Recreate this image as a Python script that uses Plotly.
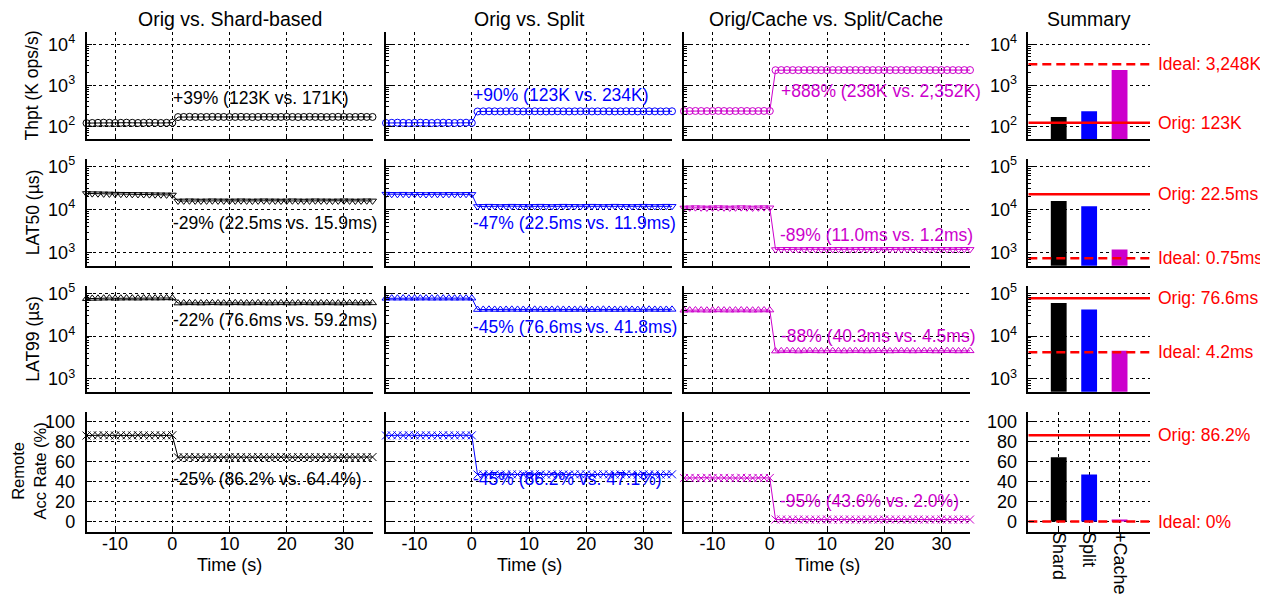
import math
import plotly.graph_objects as go

# ---------------- data ----------------
time_s = [-15, -14, -13, -12, -11, -10, -9, -8, -7, -6, -5, -4, -3, -2, -1, 0,
          1, 2, 3, 4, 5, 6, 7, 8, 9, 10,
          11, 12, 13, 14, 15, 16, 17, 18, 19, 20,
          21, 22, 23, 24, 25, 26, 27, 28, 29, 30,
          31, 32, 33, 34, 35]
time_ticks = [-10, 0, 10, 20, 30]
time_ticktext = ["-10", "0", "10", "20", "30"]

thpt_shard = [121, 122, 123, 124, 123, 122, 123, 124, 123, 122, 123, 124, 123, 122, 123, 124,
              170, 171, 172, 171, 170, 171, 172, 171, 171, 170,
              171, 172, 171, 170, 171, 172, 171, 170, 171, 172,
              171, 170, 171, 172, 171, 171, 170, 171, 172, 171,
              170, 171, 172, 171, 171]
thpt_split = [122, 123, 124, 123, 122, 123, 124, 123, 122, 123, 124, 123, 122, 123, 124, 123,
              232, 234, 235, 234, 233, 234, 236, 234, 233, 234,
              235, 234, 233, 234, 235, 234, 233, 234, 235, 234,
              233, 234, 235, 234, 233, 234, 235, 234, 233, 234,
              235, 234, 233, 234, 235]
thpt_cache = [236, 238, 239, 238, 237, 238, 240, 238, 237, 238, 239, 238, 237, 238, 239, 238,
              2340, 2352, 2360, 2350, 2345, 2352, 2358, 2350, 2348, 2352,
              2355, 2350, 2347, 2352, 2356, 2351, 2348, 2352, 2355, 2350,
              2348, 2352, 2356, 2351, 2349, 2352, 2355, 2350, 2348, 2352,
              2356, 2351, 2349, 2352, 2354]

lat50_shard = [23600, 23400, 23300, 23100, 23000, 22800, 22700, 22600, 22500, 22400, 22300, 22200, 22100, 22000, 21900, 21800,
               15800, 15900, 16000, 15900, 15800, 15900, 16000, 15900, 15900, 15800,
               15900, 16000, 15900, 15800, 15900, 16000, 15900, 15900, 15800, 15900,
               16000, 15900, 15800, 15900, 16000, 15900, 15900, 15800, 15900, 16000,
               15900, 15800, 15900, 16000, 15900]
lat50_split = [22800, 22600, 22500, 22700, 22400, 22600, 22500, 22300, 22600, 22500, 22400, 22600, 22500, 22400, 22600, 22500,
               11800, 11900, 12000, 11900, 11800, 11900, 12000, 11900, 11900, 11800,
               11900, 12000, 11900, 11800, 11900, 12000, 11900, 11900, 11800, 11900,
               12000, 11900, 11800, 11900, 12000, 11900, 11900, 11800, 11900, 12000,
               11900, 11800, 11900, 12000, 11900]
lat50_cache = [10900, 11000, 11100, 11000, 10900, 11000, 11100, 11000, 10900, 11000, 11100, 11000, 10900, 11000, 11100, 11000,
               1190, 1200, 1210, 1200, 1190, 1200, 1210, 1200, 1200, 1190,
               1200, 1210, 1200, 1190, 1200, 1210, 1200, 1200, 1190, 1200,
               1210, 1200, 1190, 1200, 1210, 1200, 1200, 1190, 1200, 1210,
               1200, 1190, 1200, 1210, 1200]

lat99_shard = [74500, 75500, 76000, 76500, 77000, 76000, 76500, 77000, 76800, 76500, 77000, 77200, 76800, 77000, 77500, 77200,
               58800, 59200, 59500, 59200, 58900, 59200, 59600, 59200, 59000, 59200,
               59500, 59200, 58900, 59200, 59600, 59200, 59000, 59200, 59500, 59200,
               58900, 59200, 59600, 59200, 59000, 59200, 59500, 59200, 58900, 59200,
               59600, 59200, 59000, 59200, 59400]
lat99_split = [76000, 76800, 76500, 77000, 76400, 76700, 76600, 76900, 76300, 76700, 76500, 76800, 76400, 76600, 76700, 76500,
               41500, 41800, 42100, 41800, 41600, 41800, 42000, 41800, 41700, 41800,
               42000, 41800, 41600, 41800, 42100, 41800, 41700, 41800, 42000, 41800,
               41600, 41800, 42100, 41800, 41700, 41800, 42000, 41800, 41600, 41800,
               42100, 41800, 41700, 41800, 41900]
lat99_cache = [40000, 40300, 40500, 40300, 40100, 40300, 40600, 40300, 40200, 40300, 40500, 40300, 40100, 40300, 40500, 40300,
               4450, 4500, 4550, 4500, 4460, 4500, 4540, 4500, 4480, 4500,
               4530, 4500, 4470, 4500, 4550, 4500, 4480, 4500, 4530, 4500,
               4470, 4500, 4540, 4500, 4480, 4500, 4530, 4500, 4470, 4500,
               4540, 4500, 4480, 4500, 4510]

remote_shard = [86.0, 86.3, 86.1, 86.4, 86.2, 86.0, 86.3, 86.2, 86.1, 86.4, 86.2, 86.0, 86.3, 86.2, 86.1, 86.3,
                64.2, 64.4, 64.6, 64.4, 64.3, 64.4, 64.5, 64.4, 64.3, 64.4,
                64.6, 64.4, 64.3, 64.4, 64.5, 64.4, 64.3, 64.4, 64.6, 64.4,
                64.3, 64.4, 64.5, 64.4, 64.3, 64.4, 64.6, 64.4, 64.3, 64.4,
                64.5, 64.4, 64.3, 64.4, 64.5]
remote_split = [86.1, 86.3, 86.2, 86.0, 86.4, 86.2, 86.1, 86.3, 86.2, 86.0, 86.4, 86.2, 86.1, 86.3, 86.2, 86.2,
                47.0, 47.1, 47.3, 47.1, 46.9, 47.1, 47.2, 47.1, 47.0, 47.1,
                47.3, 47.1, 46.9, 47.1, 47.2, 47.1, 47.0, 47.1, 47.3, 47.1,
                46.9, 47.1, 47.2, 47.1, 47.0, 47.1, 47.3, 47.1, 46.9, 47.1,
                47.2, 47.1, 47.0, 47.1, 47.2]
remote_cache = [43.5, 43.7, 43.6, 43.4, 43.8, 43.6, 43.5, 43.7, 43.6, 43.4, 43.8, 43.6, 43.5, 43.7, 43.6, 43.6,
                2.0, 2.1, 1.9, 2.0, 2.0, 2.1, 1.9, 2.0, 2.0, 2.1,
                1.9, 2.0, 2.0, 2.1, 1.9, 2.0, 2.0, 2.1, 1.9, 2.0,
                2.0, 2.1, 1.9, 2.0, 2.0, 2.1, 1.9, 2.0, 2.0, 2.1,
                1.9, 2.0, 2.0, 2.1, 2.0]

summary_categories = ["Shard", "Split", "+Cache"]
summary_thpt = [171, 234, 2352]
summary_lat50 = [15900, 11900, 1200]
summary_lat99 = [59200, 41800, 4500]
summary_remote = [64.4, 47.1, 2.0]

orig_values = [123, 22500, 76600, 86.2]
ideal_values = [3248, 750, 4200, 0]
orig_labels = ["Orig: 123K", "Orig: 22.5ms", "Orig: 76.6ms", "Orig: 86.2%"]
ideal_labels = ["Ideal: 3,248K", "Ideal: 0.75ms", "Ideal: 4.2ms", "Ideal: 0%"]

column_titles = ["Orig vs. Shard-based", "Orig vs. Split", "Orig/Cache vs. Split/Cache", "Summary"]
row_titles = ["Thpt (K ops/s)", "LAT50 (µs)", "LAT99 (µs)", "Remote<br>Acc Rate (%)"]

panel_notes = [
    ["+39% (123K vs. 171K)", "+90% (123K vs. 234K)", "+888% (238K vs. 2,352K)"],
    ["-29% (22.5ms vs. 15.9ms)", "-47% (22.5ms vs. 11.9ms)", "-89% (11.0ms vs. 1.2ms)"],
    ["-22% (76.6ms vs. 59.2ms)", "-45% (76.6ms vs. 41.8ms)", "-88% (40.3ms vs. 4.5ms)"],
    ["-25% (86.2% vs. 64.4%)", "-45% (86.2% vs. 47.1%)", "-95% (43.6% vs. 2.0%)"],
]

series = [
    [thpt_shard, thpt_split, thpt_cache],
    [lat50_shard, lat50_split, lat50_cache],
    [lat99_shard, lat99_split, lat99_cache],
    [remote_shard, remote_split, remote_cache],
]
summary_series = [summary_thpt, summary_lat50, summary_lat99, summary_remote]

for row in series:
    for s in row:
        assert len(s) == len(time_s), len(s)

# ---------------- style / layout ----------------
# The page body has an 8px margin, so the figure is 8px smaller and
# all pixel positions below are given in page coordinates (offset by 8).
OFF = 8
W, H = 1268 - OFF, 594 - OFF
FONT = "Liberation Sans, Arial, Helvetica, sans-serif"
colors = ["#000000", "#0000ff", "#cc00cc"]
markers = ["circle-open", "triangle-down-open", "triangle-up-open", "x-thin-open"]
marker_sizes = [7, 7, 7, 8]
RED = "#ff0000"

col_px = [(86.5, 372.5), (386, 672), (684, 970), (1028.3, 1150)]
row_px = [(27, 135), (155, 263), (283, 390), (410, 531)]

log_ranges = [(50, 20000), (500, 150000), (500, 150000)]
log_ticks = [[100, 1000, 10000], [1000, 10000, 100000], [1000, 10000, 100000]]
log_ticktext = [["10<sup>2</sup>", "10<sup>3</sup>", "10<sup>4</sup>"],
                ["10<sup>3</sup>", "10<sup>4</sup>", "10<sup>5</sup>"],
                ["10<sup>3</sup>", "10<sup>4</sup>", "10<sup>5</sup>"]]


def fx(p):
    return (p - OFF) / W


def fy(p):
    return 1 - (p - OFF) / H


fig = go.Figure()
layout = dict(
    width=W, height=H,
    margin=dict(l=0, r=0, t=0, b=0),
    paper_bgcolor="white", plot_bgcolor="white",
    showlegend=False,
    font=dict(family=FONT, size=18, color="black"),
)
annotations = []

grid_common = dict(showgrid=True, gridcolor="black", gridwidth=1, griddash="3px,3px")
TICKFONT = dict(size=18, family=FONT, color="black")

for r in range(4):
    for c in range(4):
        i = r * 4 + c + 1
        xs = "" if i == 1 else str(i)
        xname, yname = "xaxis" + xs, "yaxis" + xs
        xref, yref = "x" + xs, "y" + xs

        # x axis
        xa = dict(domain=[fx(col_px[c][0]), fx(col_px[c][1])], anchor=yref,
                  showline=True, linecolor="black", linewidth=1.5, mirror=False,
                  zeroline=False, tickfont=TICKFONT, ticklabelstandoff=-5)
        if c < 3:
            xa.update(range=[-15, 35], tickvals=time_ticks, ticktext=time_ticktext,
                      ticks="inside", ticklen=5, tickcolor="black",
                      showticklabels=(r == 3), **grid_common)
        else:
            xa.update(range=[-1, 3], tickvals=[0, 1, 2], ticktext=summary_categories,
                      showticklabels=(r == 3), tickangle=90,
                      ticks="inside" if r == 3 else "", ticklen=5, tickcolor="black")
            if r == 3:
                xa.update(**grid_common)
            else:
                xa.update(showgrid=False)
        layout[xname] = xa

        # y axis
        ya = dict(domain=[fy(row_px[r][1]), fy(row_px[r][0])], anchor=xref,
                  showline=True, linecolor="black", linewidth=1.5, mirror=False,
                  zeroline=False, ticks="inside", ticklen=6, tickcolor="black",
                  showticklabels=(c in (0, 3)), tickfont=TICKFONT,
                  ticklabelstandoff=6, **grid_common)
        if r < 3:
            lo, hi = log_ranges[r]
            minor_vals = []
            for d in range(1, 6):
                for m in range(2, 10):
                    v = m * 10 ** d
                    if lo <= v <= hi:
                        minor_vals.append(v)
            ya.update(type="log", range=[math.log10(lo), math.log10(hi)],
                      tickvals=log_ticks[r], ticktext=log_ticktext[r],
                      minor=dict(tickvals=minor_vals, ticks="inside", ticklen=3,
                                 tickcolor="black", showgrid=False))
        else:
            ya.update(range=[-10, 110], tickvals=[0, 20, 40, 60, 80, 100])
        layout[yname] = ya

        # traces
        if c < 3:
            fig.add_trace(go.Scatter(
                x=time_s, y=series[r][c], mode="lines+markers",
                line=dict(color=colors[c], width=1),
                marker=dict(symbol=markers[r], size=marker_sizes[r], color=colors[c],
                            line=dict(width=1, color=colors[c])),
                xaxis=xref, yaxis=yref, cliponaxis=False))
        else:
            fig.add_trace(go.Bar(
                x=[0, 1, 2], y=summary_series[r], width=0.52,
                marker=dict(color=colors, line=dict(width=0)),
                xaxis=xref, yaxis=yref))
            fig.add_trace(go.Scatter(
                x=[-1, 3], y=[orig_values[r], orig_values[r]], mode="lines",
                line=dict(color=RED, width=2.5), xaxis=xref, yaxis=yref,
                cliponaxis=False))
            fig.add_trace(go.Scatter(
                x=[-1, 3], y=[ideal_values[r], ideal_values[r]], mode="lines",
                line=dict(color=RED, width=2.5, dash="9px,5px"), xaxis=xref, yaxis=yref,
                cliponaxis=False))
            for val, lab in ((orig_values[r], orig_labels[r]), (ideal_values[r], ideal_labels[r])):
                yv = math.log10(val) if r < 3 else val
                annotations.append(dict(
                    text=lab, showarrow=False, xref="paper", yref=yref,
                    x=fx(1156), y=yv, xanchor="left", yanchor="middle",
                    font=dict(size=17.5, color=RED, family=FONT)))

# panel notes: (left edge px, vertical centre px)
note_pos = [
    [(171, 94), (471, 91), (779, 87)],
    [(171, 220), (471, 220), (778, 232)],
    [(171, 318), (471, 325), (779, 334)],
    [(171, 478), (471, 478), (778, 500)],
]
for r in range(4):
    for c in range(3):
        px, py = note_pos[r][c]
        annotations.append(dict(
            text=panel_notes[r][c], showarrow=False, xref="paper", yref="paper",
            x=fx(px), y=fy(py), xanchor="left", yanchor="middle",
            font=dict(size=17.5, color=colors[c], family=FONT)))

# column titles
title_x = [229.5, 529, 826, 1089]
for c in range(4):
    annotations.append(dict(text=column_titles[c], showarrow=False, xref="paper", yref="paper",
                            x=fx(title_x[c]), y=fy(14), xanchor="center", yanchor="middle",
                            font=dict(size=19.5, family=FONT)))
# row titles
row_title_x = [32, 33, 33, 29]
row_title_size = [17.5, 17.5, 17.5, 16.5]
for r in range(4):
    annotations.append(dict(text=row_titles[r], showarrow=False, xref="paper", yref="paper",
                            x=fx(row_title_x[r]), y=fy((row_px[r][0] + row_px[r][1]) / 2),
                            xanchor="center", yanchor="middle", textangle=-90,
                            font=dict(size=row_title_size[r], family=FONT)))
# x titles
for c in range(3):
    annotations.append(dict(text="Time (s)", showarrow=False, xref="paper", yref="paper",
                            x=fx((col_px[c][0] + col_px[c][1]) / 2), y=fy(565),
                            xanchor="center", yanchor="middle",
                            font=dict(size=18, family=FONT)))

layout["annotations"] = annotations
fig.update_layout(**layout)
fig.write_html("out.html")
